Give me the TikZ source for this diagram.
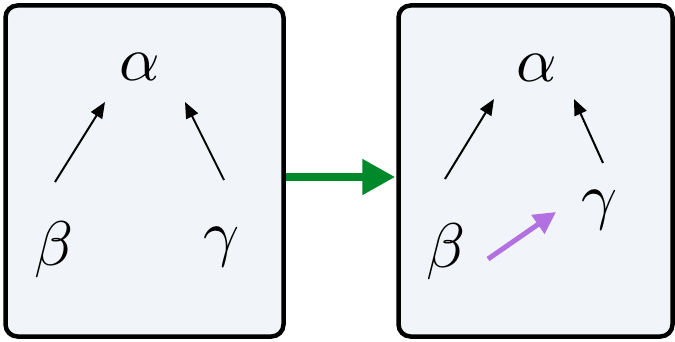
\documentclass[tikz,border=0pt]{standalone}
\usetikzlibrary{arrows.meta}
\definecolor{boxfill}{HTML}{F1F5F9}
\definecolor{flowgreen}{HTML}{00892B}
\definecolor{edgepurple}{HTML}{B370E0}
\newcommand{\bigvar}[1]{\scalebox{6.3}{$#1$}}
\begin{document}
\begin{tikzpicture}[x=1pt,y=-1pt,
  panel/.style={draw=black,line width=4.5pt,fill=boxfill,rounded corners=12pt,inner sep=0pt},
  var/.style={inner sep=0pt},
  dep/.style={line width=2pt,-{Triangle[length=16pt,width=13pt]}},
  change/.style={draw=edgepurple,line width=5pt,-{Triangle[length=22pt,width=22pt]}},
  flow/.style={draw=flowgreen,line width=8pt,-{Triangle[length=33pt,width=34pt]}}]
\useasboundingbox (0,0) rectangle (675,342);
% panels
\node[panel,minimum width=278pt,minimum height=331pt] (L) at (144.5,171) {};
\node[panel,minimum width=274pt,minimum height=331pt] (R) at (535.5,171) {};
% left panel variables
\node[var] (la) at (140,67) {\bigvar{\alpha}};
\node[var] (lb) at (54,250) {\bigvar{\beta}};
\node[var] (lg) at (222,247) {\bigvar{\gamma}};
% right panel variables
\node[var] (ra) at (537,68) {\bigvar{\alpha}};
\node[var] (rb) at (446,252) {\bigvar{\beta}};
\node[var] (rg) at (600,210) {\bigvar{\gamma}};
% arrow ends
\coordinate (lbs) at (55,182);
\coordinate (lbe) at (105,102);
\coordinate (lgs) at (224,180);
\coordinate (lge) at (185,102);
\coordinate (rbs) at (445,179);
\coordinate (rbe) at (494,99);
\coordinate (rgs) at (603,163);
\coordinate (rge) at (574,99);
\coordinate (ps) at (488,259);
\coordinate (pe) at (556,212);
\draw[dep] (lbs) -- (lbe);
\draw[dep] (lgs) -- (lge);
\draw[dep] (rbs) -- (rbe);
\draw[dep] (rgs) -- (rge);
\draw[change] (ps) -- (pe);
\draw[flow] ([yshift=-6pt]L.east) -- ([yshift=-6pt,xshift=-1pt]R.west);
\end{tikzpicture}
\end{document}
